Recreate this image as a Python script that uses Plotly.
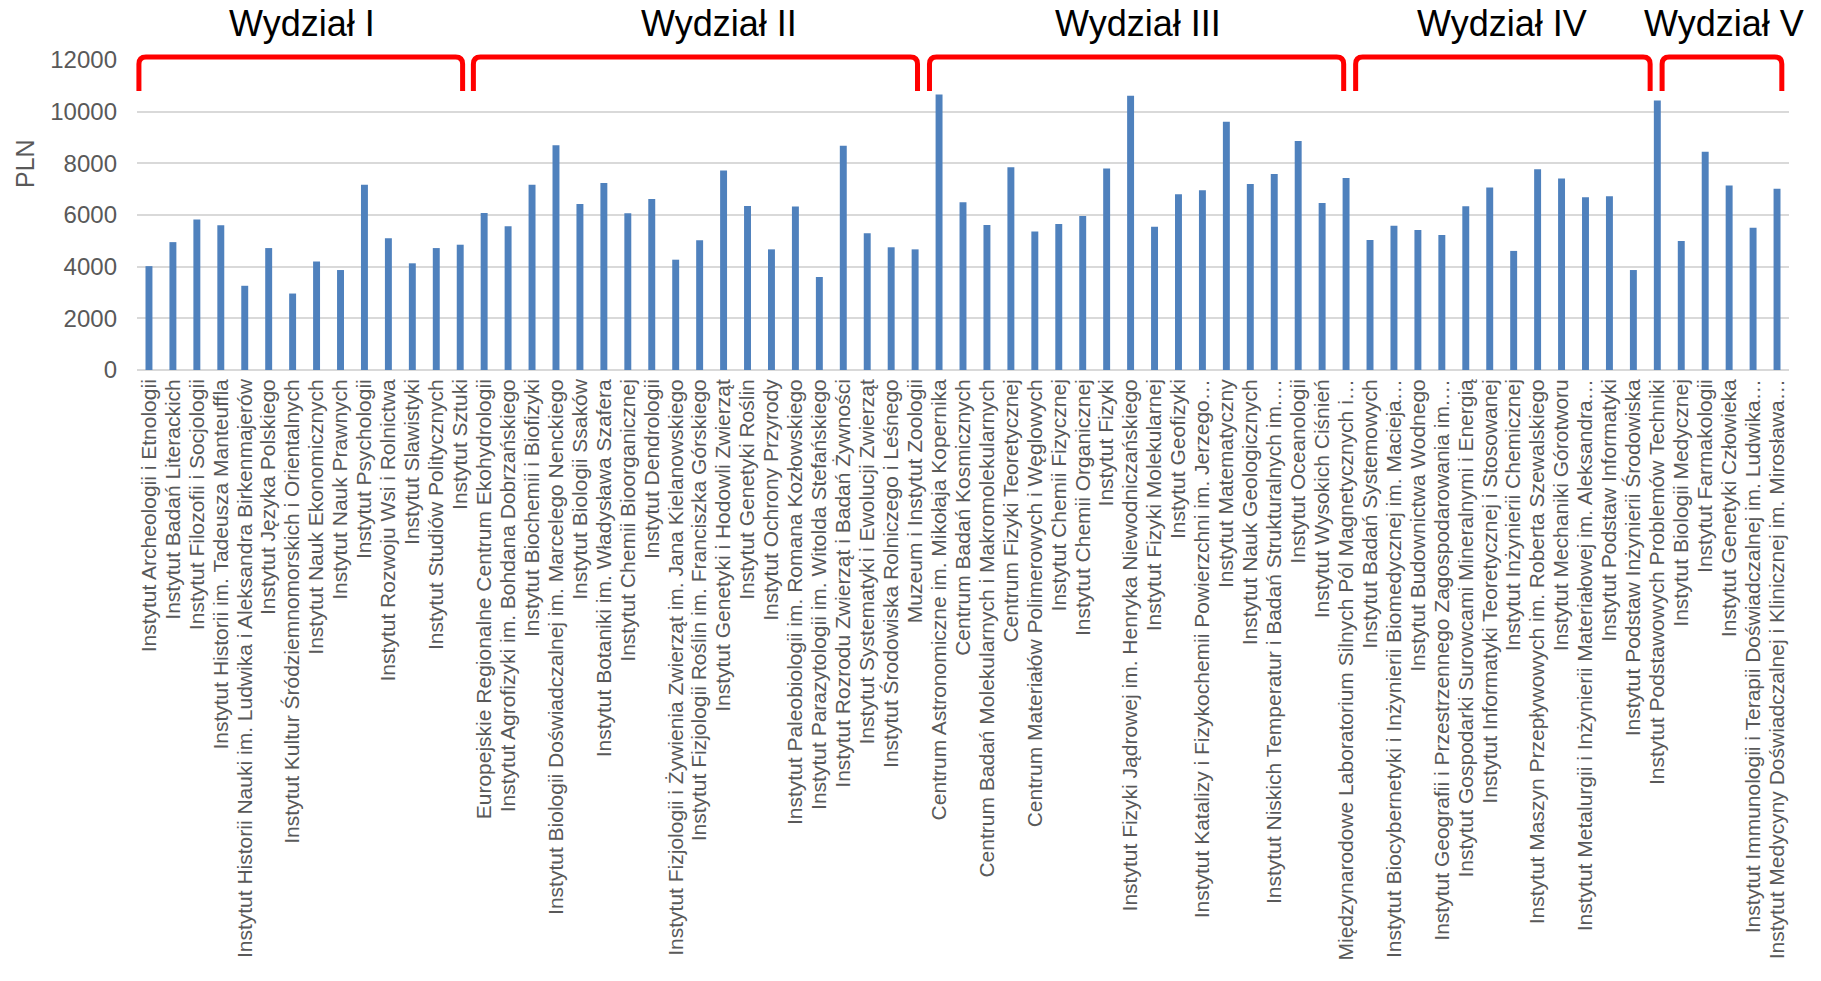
import plotly.graph_objects as go

categories = [
    "Instytut Archeologii i Etnologii",
    "Instytut Badań Literackich",
    "Instytut Filozofii i Socjologii",
    "Instytut Historii im. Tadeusza Manteuffla",
    "Instytut Historii Nauki im. Ludwika i Aleksandra Birkenmajerów",
    "Instytut Języka Polskiego",
    "Instytut Kultur Śródziemnomorskich i Orientalnych",
    "Instytut Nauk Ekonomicznych",
    "Instytut Nauk Prawnych",
    "Instytut Psychologii",
    "Instytut Rozwoju Wsi i Rolnictwa",
    "Instytut Slawistyki",
    "Instytut Studiów Politycznych",
    "Instytut Sztuki",
    "Europejskie Regionalne Centrum Ekohydrologii",
    "Instytut Agrofizyki im. Bohdana Dobrzańskiego",
    "Instytut Biochemii i Biofizyki",
    "Instytut Biologii Doświadczalnej im. Marcelego Nenckiego",
    "Instytut Biologii Ssaków",
    "Instytut Botaniki im. Władysława Szafera",
    "Instytut Chemii Bioorganicznej",
    "Instytut Dendrologii",
    "Instytut Fizjologii i Żywienia Zwierząt im. Jana Kielanowskiego",
    "Instytut Fizjologii Roślin im. Franciszka Górskiego",
    "Instytut Genetyki i Hodowli Zwierząt",
    "Instytut Genetyki Roślin",
    "Instytut Ochrony Przyrody",
    "Instytut Paleobiologii im. Romana Kozłowskiego",
    "Instytut Parazytologii im. Witolda Stefańskiego",
    "Instytut Rozrodu Zwierząt i Badań Żywności",
    "Instytut Systematyki i Ewolucji Zwierząt",
    "Instytut Środowiska Rolniczego i Leśnego",
    "Muzeum i Instytut Zoologii",
    "Centrum Astronomiczne im. Mikołaja Kopernika",
    "Centrum Badań Kosmicznych",
    "Centrum Badań Molekularnych i Makromolekularnych",
    "Centrum Fizyki Teoretycznej",
    "Centrum Materiałów Polimerowych i Węglowych",
    "Instytut Chemii Fizycznej",
    "Instytut Chemii Organicznej",
    "Instytut Fizyki",
    "Instytut Fizyki Jądrowej im. Henryka Niewodniczańskiego",
    "Instytut Fizyki Molekularnej",
    "Instytut Geofizyki",
    "Instytut Katalizy i Fizykochemii Powierzchni im. Jerzego…",
    "Instytut Matematyczny",
    "Instytut Nauk Geologicznych",
    "Instytut Niskich Temperatur i Badań Strukturalnych im.…",
    "Instytut Oceanologii",
    "Instytut Wysokich Ciśnień",
    "Międzynarodowe Laboratorium Silnych Pól Magnetycznych i…",
    "Instytut Badań Systemowych",
    "Instytut Biocybernetyki i Inżynierii Biomedycznej im. Macieja…",
    "Instytut Budownictwa Wodnego",
    "Instytut Geografii i Przestrzennego Zagospodarowania im.…",
    "Instytut Gospodarki Surowcami Mineralnymi i Energią",
    "Instytut Informatyki Teoretycznej i Stosowanej",
    "Instytut Inżynierii Chemicznej",
    "Instytut Maszyn Przepływowych im. Roberta Szewalskiego",
    "Instytut Mechaniki Górotworu",
    "Instytut Metalurgii i Inżynierii Materiałowej im. Aleksandra…",
    "Instytut Podstaw Informatyki",
    "Instytut Podstaw Inżynierii Środowiska",
    "Instytut Podstawowych Problemów Techniki",
    "Instytut Biologii Medycznej",
    "Instytut Farmakologii",
    "Instytut Genetyki Człowieka",
    "Instytut Immunologii i Terapii Doświadczalnej im. Ludwika…",
    "Instytut Medycyny Doświadczalnej i Klinicznej im. Mirosława…",
]

values = [
    4020, 4950, 5830, 5600, 3260, 4720, 2960, 4200, 3870, 7170, 5100, 4130, 4720, 4850,
    6080, 5560, 7170, 8700, 6430, 7240, 6070, 6620, 4270, 5020, 7720, 6350, 4670, 6330,
    3600, 8680, 5290, 4750, 4670,
    10660, 6490, 5610, 7850, 5360, 5650, 5960, 7800, 10620, 5550, 6800, 6960, 9610, 7200,
    7590, 8860, 6460, 7430,
    5030, 5580, 5420, 5230, 6340, 7060, 4610, 7770, 7410, 6690, 6730, 3870, 10430,
    4990, 8450, 7140, 5510, 7020,
]

groups = ["Wydział I", "Wydział II", "Wydział III", "Wydział IV", "Wydział V"]
group_sizes = [14, 19, 18, 13, 5]

y_ticks = [0, 2000, 4000, 6000, 8000, 10000, 12000]

# ---- layout geometry (not data); the page body margin is removed below ----
W, H = 1821, 981
ML, MR, MT, MB = 137, 32, 60, 611
PW = W - ML - MR
PH = H - MT - MB
N = len(categories)

# brace leg positions and header centres, in category-index units (hand placed in original)
brace_spans = [(-0.42, 13.1), (13.55, 32.1), (32.6, 49.9), (50.4, 62.7), (63.2, 68.2)]
header_centres = [6.4, 23.8, 41.3, 56.5, 65.8]

def xp(i):
    return (i + 0.5) / N

def yp(px_from_plot_top):
    return (PH - px_from_plot_top) / PH

FONT = "Liberation Sans, Arial, sans-serif"
GRAY = "#595959"

fig = go.Figure(go.Bar(
    x=categories, y=values,
    marker=dict(color="#4F81BD", line=dict(width=0)),
))

shapes = []
annotations = []
yt = yp(-3)
yb = yp(31)
rx = 7 / PW
ry = 7 / PH
for (a, b) in brace_spans:
    x0, x1 = xp(a), xp(b)
    path = (f"M {x0},{yb} L {x0},{yt - ry} Q {x0},{yt} {x0 + rx},{yt} "
            f"L {x1 - rx},{yt} Q {x1},{yt} {x1},{yt - ry} L {x1},{yb}")
    shapes.append(dict(type="path", xref="paper", yref="paper", path=path,
                       line=dict(color="#FF0000", width=5)))

for g, c in zip(groups, header_centres):
    annotations.append(dict(text=g, xref="paper", yref="paper", x=xp(c), y=yp(-36),
                            xanchor="center", yanchor="middle", showarrow=False,
                            font=dict(family=FONT, size=36, color="black")))

annotations.append(dict(text="PLN", xref="paper", yref="paper", x=(25 - 137) / PW, y=yp(104),
                        xanchor="center", yanchor="middle", textangle=-90, showarrow=False,
                        font=dict(family=FONT, size=25, color=GRAY)))

fig.update_layout(
    template="none",
    width=W, height=H,
    margin=dict(l=ML, r=MR, t=MT, b=MB, pad=0),
    paper_bgcolor="white", plot_bgcolor="white",
    bargap=0.71,
    showlegend=False,
    shapes=shapes,
    annotations=annotations,
    font=dict(family=FONT, color=GRAY),
    xaxis=dict(
        type="category", automargin=False, tickangle=-90,
        tickmode="linear", tick0=0, dtick=1,
        tickfont=dict(family=FONT, size=21, color=GRAY),
        showgrid=False, showline=False, zeroline=False, ticks="",
        range=[-0.5, N - 0.5], ticklabelstandoff=4,
    ),
    yaxis=dict(
        automargin=False, range=[0, 12000], tickvals=y_ticks,
        ticktext=[str(v) for v in y_ticks],
        tickfont=dict(family=FONT, size=24, color=GRAY),
        showgrid=True, gridcolor="#D9D9D9", gridwidth=1.5,
        zeroline=True, zerolinecolor="#D9D9D9", zerolinewidth=1.5,
        showline=False, ticks="", ticklabelstandoff=19,
    ),
)

fig.write_html(
    "out.html",
    config={"displayModeBar": False},
    post_script="document.body.style.margin='0px';document.body.style.overflow='hidden';",
)
